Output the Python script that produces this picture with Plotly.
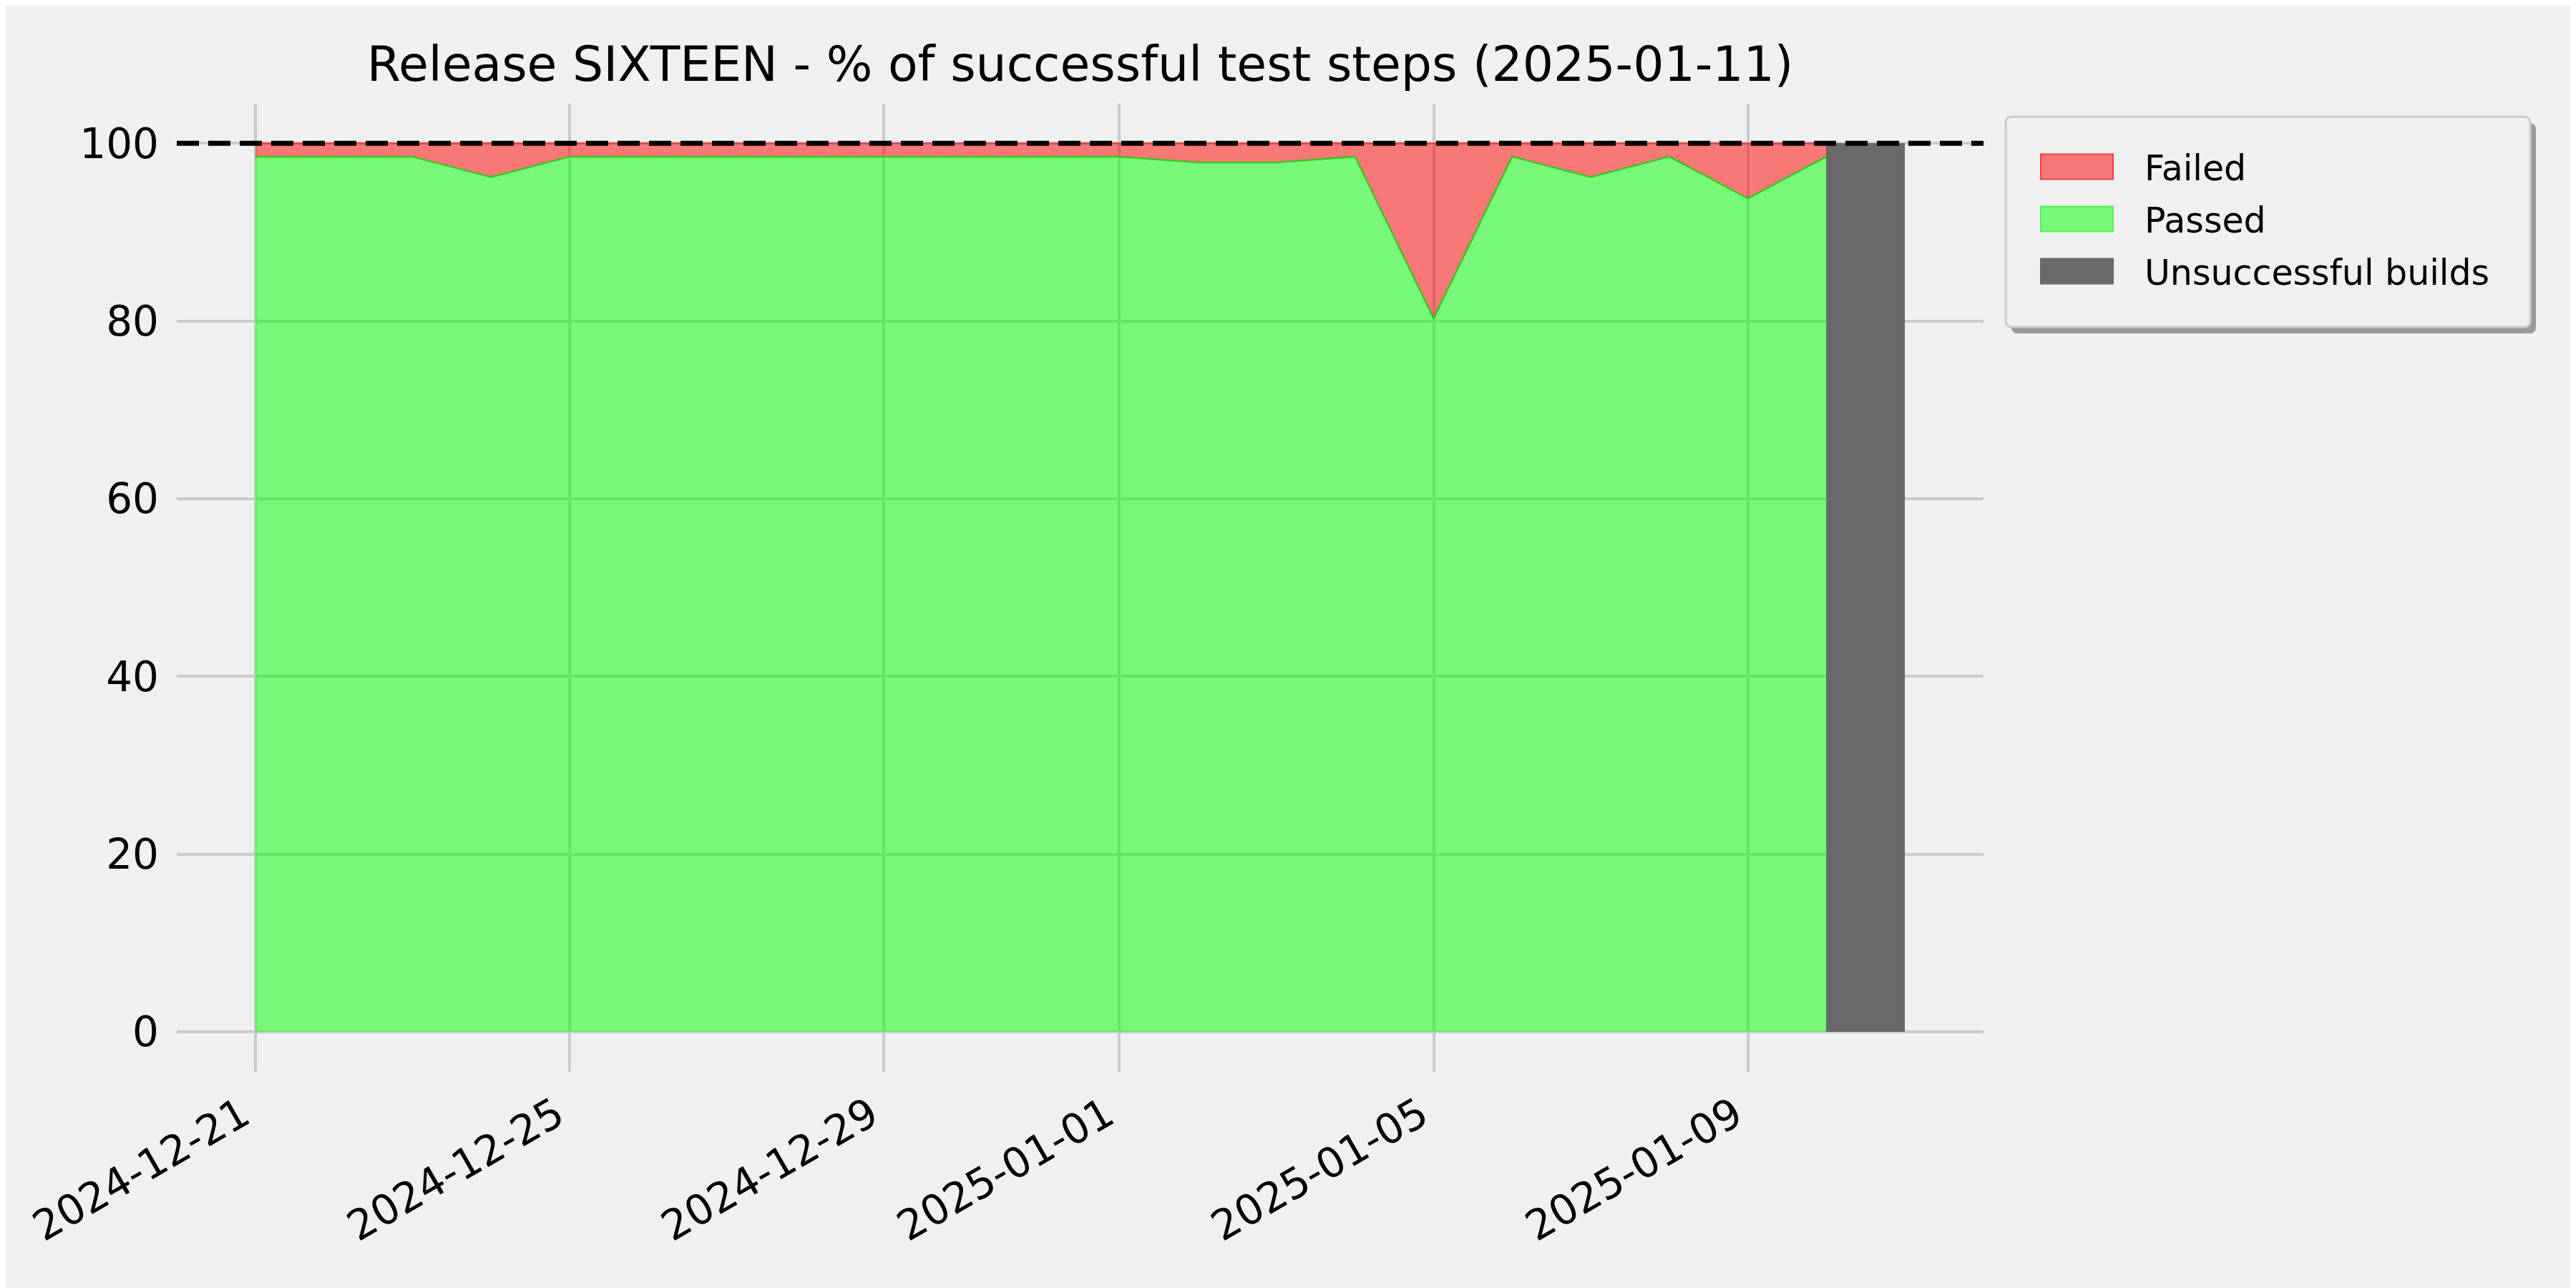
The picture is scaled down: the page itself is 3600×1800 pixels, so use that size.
import plotly.graph_objects as go

# ---------------- data ----------------
dates = ["2024-12-21", "2024-12-22", "2024-12-23", "2024-12-24", "2024-12-25",
         "2024-12-26", "2024-12-27", "2024-12-28", "2024-12-29", "2024-12-30",
         "2024-12-31", "2025-01-01", "2025-01-02", "2025-01-03", "2025-01-04",
         "2025-01-05", "2025-01-06", "2025-01-07", "2025-01-08", "2025-01-09",
         "2025-01-10"]
passed = [98.5, 98.5, 98.5, 96.2, 98.5,
          98.5, 98.5, 98.5, 98.5, 98.5,
          98.5, 98.5, 97.85, 97.85, 98.5,
          80.3, 98.5, 96.2, 98.5, 93.8,
          98.5]
failed = [1.5, 1.5, 1.5, 3.8, 1.5,
          1.5, 1.5, 1.5, 1.5, 1.5,
          1.5, 1.5, 2.15, 2.15, 1.5,
          19.7, 1.5, 3.8, 1.5, 6.2,
          1.5]
unsuccessful_dates = ["2025-01-10"]
unsuccessful_values = [100]
target_value = 100
series_names = ["Failed", "Passed", "Unsuccessful builds"]
x_tickvals = ["2024-12-21", "2024-12-25", "2024-12-29", "2025-01-01", "2025-01-05", "2025-01-09"]
y_tickvals = [0, 20, 40, 60, 80, 100]
title_text = "Release SIXTEEN - % of successful test steps (2025-01-11)"

# ---------------- style ----------------
BG = "#f0f0f0"
GRID = "#cbcbcb"
FAIL_FILL = "rgba(255,0,0,0.5)"
FAIL_LINE = "rgba(255,40,40,0.75)"
PASS_FILL = "rgba(0,255,0,0.5)"
PASS_LINE = "rgba(40,200,20,0.85)"
UNSUCC = "#696969"
FONT = "DejaVu Sans"

W, H = 3600, 1800
OFF = 8  # page body margin
# target screen positions of the plot area
SL, SR, ST, SB = 247, 2772, 145, 1498
L, T = SL - OFF, ST - OFF
R = W - (SR - OFF)
B = H - (SB - OFF)
PW, PH = SR - SL, SB - ST
DAY_MS = 86400000


def px(xs):
    # screen x -> paper x
    return (xs - SL) / PW


def py(ys):
    # screen y (top origin) -> paper y
    return (SB - ys) / PH


fig = go.Figure()
fig.add_trace(go.Scatter(
    x=dates, y=passed, name=series_names[1], stackgroup="one",
    fillcolor=PASS_FILL, line=dict(color=PASS_LINE, width=2.5),
    mode="lines", showlegend=False))
fig.add_trace(go.Scatter(
    x=dates, y=failed, name=series_names[0], stackgroup="one",
    fillcolor=FAIL_FILL, line=dict(color=FAIL_LINE, width=2.5),
    mode="lines", showlegend=False))
fig.add_trace(go.Bar(
    x=unsuccessful_dates, y=unsuccessful_values, name=series_names[2],
    width=[DAY_MS] * len(unsuccessful_dates), offset=0,
    marker=dict(color=UNSUCC, line=dict(width=0)), showlegend=False))

shapes = []
# target line
shapes.append(dict(type="line", xref="paper", x0=0, x1=1, yref="y",
                   y0=target_value, y1=target_value,
                   line=dict(color="black", width=7, dash="31px,13px"),
                   layer="above"))


def rounded_rect(x0s, y0s, x1s, y1s, r=9):
    rx = r / PW
    ry = r / PH
    a, b_ = px(x0s), px(x1s)
    top, bot = py(y0s), py(y1s)
    return (f"M{a + rx},{top} L{b_ - rx},{top} Q{b_},{top} {b_},{top - ry} "
            f"L{b_},{bot + ry} Q{b_},{bot} {b_ - rx},{bot} "
            f"L{a + rx},{bot} Q{a},{bot} {a},{bot + ry} "
            f"L{a},{top - ry} Q{a},{top} {a + rx},{top} Z")


# legend shadow + box
shapes.append(dict(type="path", xref="paper", yref="paper",
                   path=rounded_rect(2811, 172, 3544, 466),
                   fillcolor="#999999", line=dict(width=0), layer="above"))
shapes.append(dict(type="path", xref="paper", yref="paper",
                   path=rounded_rect(2803, 163, 3536, 457),
                   fillcolor=BG, line=dict(color="#cccccc", width=3), layer="above"))

legend_rows = [
    (series_names[0], FAIL_FILL, "rgba(255,60,60,1)", 233),
    (series_names[1], PASS_FILL, "rgba(80,240,80,1)", 306),
    (series_names[2], UNSUCC, UNSUCC, 379),
]
annotations = []
for name, fc, lc, yc in legend_rows:
    shapes.append(dict(type="rect", xref="paper", yref="paper",
                       x0=px(2852), x1=px(2953), y0=py(yc + 17.5), y1=py(yc - 17.5),
                       fillcolor=fc, line=dict(color=lc, width=2), layer="above"))
    annotations.append(dict(text=name, xref="paper", yref="paper",
                            x=px(2995), y=py(yc + 2), xanchor="left", yanchor="middle",
                            showarrow=False, font=dict(family=FONT, size=49, color="black")))

fig.update_layout(
    width=W, height=H,
    margin=dict(l=L, r=R, t=T, b=B, autoexpand=False),
    paper_bgcolor=BG, plot_bgcolor=BG,
    font=dict(family=FONT, color="black"),
    title=dict(text=title_text, x=0.5, xref="paper", xanchor="center",
               y=1 - (89 - OFF) / H, yref="container", yanchor="middle",
               font=dict(family=FONT, size=68, color="black")),
    showlegend=False,
    shapes=shapes,
    annotations=annotations,
    bargap=0,
)
fig.update_xaxes(
    type="date", range=["2024-12-20", "2025-01-12"],
    tickvals=x_tickvals, tickformat="%Y-%m-%d", tickangle=-30,
    showgrid=True, gridcolor=GRID, gridwidth=4,
    zeroline=False, showline=False, ticks="",
    tickfont=dict(family=FONT, size=58, color="black"),
    ticklabelstandoff=14, ticklabelshift=-18,
)
fig.update_yaxes(
    range=[-4.5, 104.45], tickvals=y_tickvals,
    showgrid=True, gridcolor=GRID, gridwidth=4,
    zeroline=False, showline=False, ticks="",
    tickfont=dict(family=FONT, size=58, color="black"),
    ticklabelstandoff=24,
)

fig.write_html("out.html")
